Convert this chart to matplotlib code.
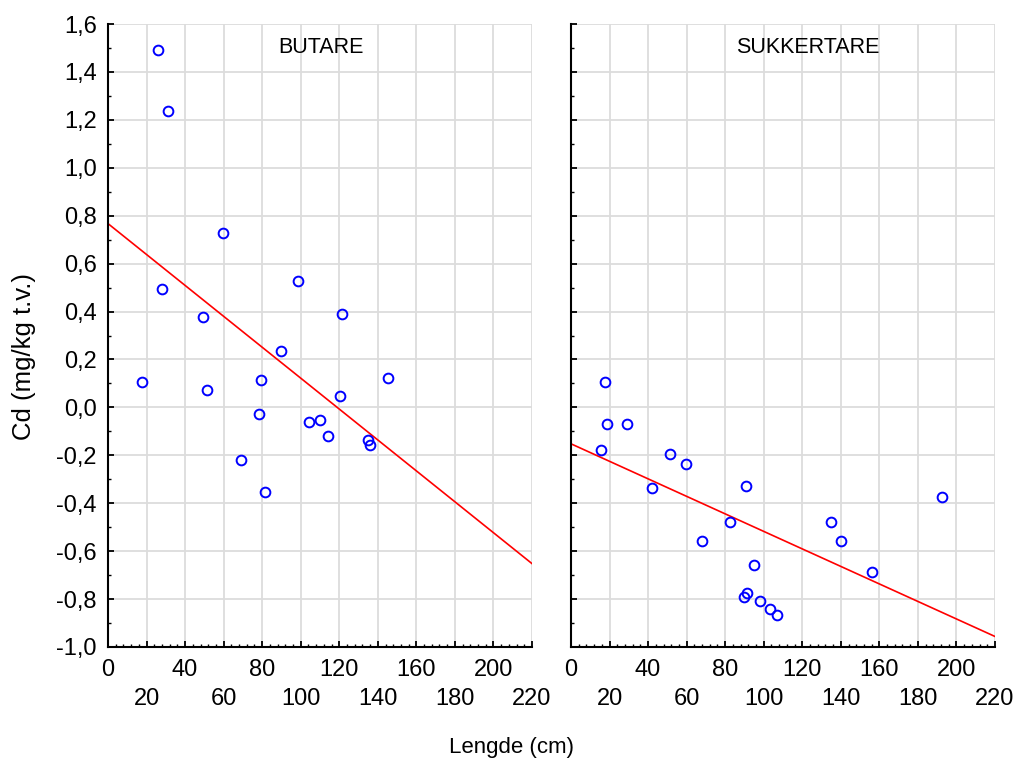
import matplotlib
matplotlib.use('Agg')
import matplotlib.pyplot as plt
import numpy as np

plt.rc('font', family=['Liberation Sans', 'DejaVu Sans'])

# BUTARE - length (cm) and Cd
but_x = [26.1, 31.2, 59.7, 28.1, 98.4, 121.4, 49.2, 90.0, 17.6, 51.3, 79.6,
         145.4, 120.2, 78.6, 104.5, 109.8, 114.0, 134.9, 136.1, 69.0, 81.7]
but_y = [1.49, 1.238, 0.727, 0.494, 0.526, 0.391, 0.377, 0.234, 0.107, 0.074, 0.115,
         0.124, 0.047, -0.028, -0.060, -0.052, -0.118, -0.135, -0.155, -0.220, -0.354]
but_fit = (0.767, -0.00645)  # intercept, slope

# SUKKERTARE
suk_x = [17.4, 18.7, 29.2, 15.4, 51.2, 59.5, 41.9, 91.0, 192.6, 82.5, 135.0,
         68.0, 140.2, 95.1, 156.0, 91.2, 89.8, 98.2, 103.4, 106.7]
suk_y = [0.105, -0.070, -0.070, -0.179, -0.195, -0.237, -0.337, -0.330, -0.372, -0.480, -0.480,
         -0.556, -0.556, -0.656, -0.689, -0.773, -0.792, -0.806, -0.841, -0.866]
suk_fit = (-0.152, -0.003655)

panels = [('BUTARE', but_x, but_y, but_fit, 0.502),
          ('SUKKERTARE', suk_x, suk_y, suk_fit, 0.559)]

xticks = np.arange(0, 221, 20)
xlabels = [str(v) if i % 2 == 0 else '\n' + str(v) for i, v in enumerate(xticks)]
yticks = np.round(np.arange(-1.0, 1.61, 0.2), 1)
ylabels = [('%.1f' % (0.0 if abs(v) < 1e-9 else v)).replace('.', ',') for v in yticks]

fig = plt.figure(figsize=(10.15, 7.58), dpi=100)
lefts = [108 / 1015, 571 / 1015]
for i, (name, x, y, fit, tx) in enumerate(panels):
    ax = fig.add_axes([lefts[i], 111 / 758, 424 / 1015, 623 / 758])
    ax.set_xlim(0, 220)
    ax.set_ylim(-1.0, 1.6)
    ax.grid(True, color='#dcdcdc', linewidth=1.3)
    ax.set_axisbelow(True)
    xx = np.array([0, 220])
    ax.plot(xx, fit[0] + fit[1] * xx, color='#ff0000', linewidth=1.2)
    ax.plot(x, y, 'o', markerfacecolor='none', markeredgecolor='#0000ff',
            markersize=7, markeredgewidth=1.4, linestyle='none')
    ax.spines['top'].set_visible(False)
    ax.spines['right'].set_visible(False)
    ax.spines['left'].set_linewidth(1.5)
    ax.spines['bottom'].set_linewidth(1.5)
    ax.set_xticks(xticks)
    ax.set_xticklabels(xlabels)
    ax.set_xticks(np.arange(0, 221, 4), minor=True)
    ax.set_yticks(yticks)
    ax.set_yticks(np.arange(-1.0, 1.61, 0.1), minor=True)
    if i == 0:
        ax.set_yticklabels(ylabels)
    else:
        ax.set_yticklabels([])
    ax.tick_params(which='major', direction='in', length=4, width=1.3, labelsize=17, pad=8)
    ax.tick_params(axis='x', which='major', pad=9)
    ax.tick_params(which='minor', direction='in', length=2.5, width=1.0)
    for lbl in ax.get_xticklabels():
        lbl.set_linespacing(1.4)
    ax.text(tx, 0.962, name, transform=ax.transAxes, ha='center', va='center', fontsize=15.5)

fig.text(24 / 1015, 1 - 357 / 758, 'Cd (mg/kg t.v.)', rotation=90,
         ha='center', va='center', fontsize=18.5)
fig.text(512 / 1015, 1 - 747 / 758, 'Lengde (cm)', ha='center', va='center', fontsize=16)

fig.savefig('out.png', dpi=100)
